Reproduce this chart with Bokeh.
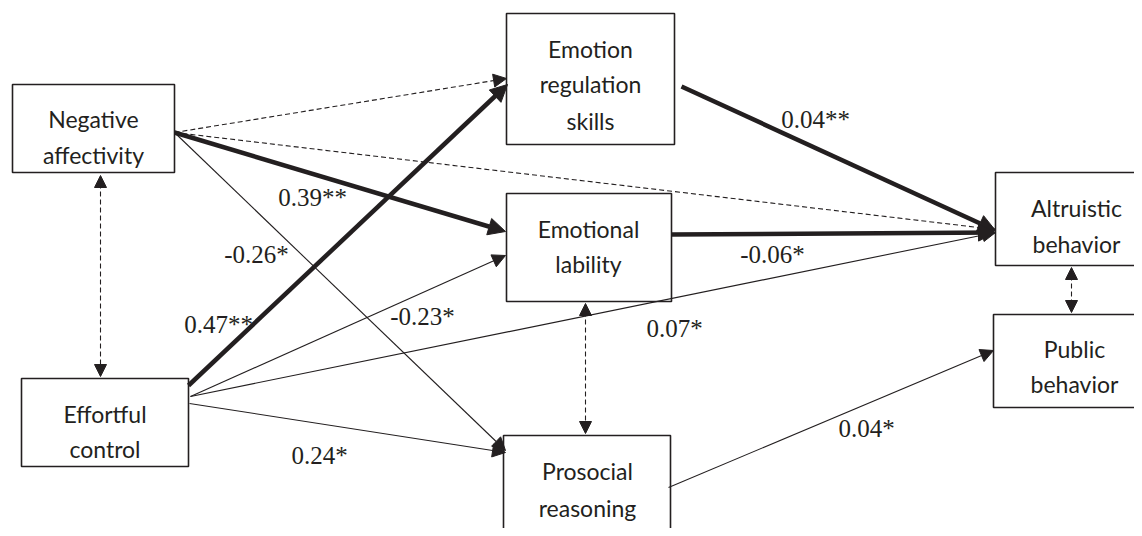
from bokeh.plotting import figure
from bokeh.models import Arrow, NormalHead, Range1d, ColumnDataSource
from bokeh.embed import file_html
from bokeh.resources import INLINE
from bokeh.core.properties import value

# ---- data ----
node_ids = ["NA", "EC", "ERS", "EL", "PR", "ALT", "PUB"]
node_labels = [
    ["Negative", "affectivity"],
    ["Effortful", "control"],
    ["Emotion", "regulation", "skills"],
    ["Emotional", "lability"],
    ["Prosocial", "reasoning"],
    ["Altruistic", "behavior"],
    ["Public", "behavior"],
]

path_from = ["NA", "NA", "NA", "NA", "EC", "EC", "EC", "EC", "ERS", "EL", "PR"]
path_to = ["ERS", "ALT", "EL", "PR", "ERS", "EL", "ALT", "PR", "ALT", "ALT", "PUB"]
path_coef = ["", "", "0.39**", "-0.26*", "0.47**", "-0.23*", "0.07*", "0.24*", "0.04**", "-0.06*", "0.04*"]
path_kind = ["dashed", "dashed", "bold", "thin", "bold", "thin", "thin", "thin", "bold", "bold", "thin"]

cov_a = ["NA", "EL", "ALT"]
cov_b = ["EC", "PR", "PUB"]

# ---- layout (pixel space) ----
box = {  # left, right, top, bottom
    "NA": (12, 174, 84, 172),
    "EC": (21, 188, 378, 466),
    "ERS": (506, 674, 13, 144),
    "EL": (506, 671, 193, 301),
    "PR": (503, 670, 435, 560),
    "ALT": (995, 1170, 172, 265),
    "PUB": (993, 1170, 314, 407),
}
text_x = {"NA": 93, "EC": 104.5, "ERS": 590, "EL": 588, "PR": 587, "ALT": 1076, "PUB": 1074}
text_base = {"NA": [118, 154], "EC": [413, 448], "ERS": [48, 83, 120], "EL": [228, 263],
             "PR": [470, 507], "ALT": [207, 243], "PUB": [348, 383]}

path_start = [(174, 132), (174, 132), (174, 132), (174, 132), (188, 385), (190, 396), (190, 396),
              (189, 403), (681, 86), (671, 234), (668, 487)]
path_end = [(506, 78), (995, 229), (505, 231), (505, 450), (507, 84), (505, 255), (995, 232),
            (505, 452), (995, 230), (995, 232), (993, 350)]
coef_pos = [None, None, (312, 197), (256, 254), (218, 324), (422, 316), (674, 328), (319, 455),
            (815, 119), (772, 254), (866, 428)]
cov_pos = [((100, 175), (100, 376)), ((585, 303), (585, 433)), ((1071, 267), (1071, 312))]

INK = "#231f20"

p = figure(width=1134, height=528, x_range=Range1d(0, 1134), y_range=Range1d(528, 0),
           output_backend="svg", toolbar_location=None, min_border=0)
p.axis.visible = False
p.grid.visible = False
p.outline_line_color = None
p.background_fill_color = "white"

# boxes
src = ColumnDataSource(dict(
    left=[box[n][0] for n in node_ids], right=[box[n][1] for n in node_ids],
    top=[box[n][2] for n in node_ids], bottom=[box[n][3] for n in node_ids]))
p.quad(left="left", right="right", top="top", bottom="bottom", source=src,
       fill_color="white", line_color=INK, line_width=1.6)

# box texts
tx, ty, tt = [], [], []
for n, lines in zip(node_ids, node_labels):
    for line, yb in zip(lines, text_base[n]):
        tx.append(text_x[n]); ty.append(yb); tt.append(line)
p.text(x=tx, y=ty, text=tt, text_font=value("Lato"), text_font_size="23px",
       text_align="center", text_baseline="alphabetic", text_color=INK)

# paths
for k, (s, e) in enumerate(zip(path_start, path_end)):
    kind = path_kind[k]
    lw = 4.5 if kind == "bold" else 1.1
    hs = 17 if kind == "bold" else 13
    head = NormalHead(size=hs, fill_color=INK, line_color=INK, line_width=1)
    arr = Arrow(end=head, x_start=s[0], y_start=s[1], x_end=e[0], y_end=e[1],
                line_color=INK, line_width=lw,
                line_dash="5 3" if kind == "dashed" else "solid")
    p.add_layout(arr)

# covariances
for a, b in cov_pos:
    arr = Arrow(start=NormalHead(size=12, fill_color=INK, line_color=INK),
                end=NormalHead(size=12, fill_color=INK, line_color=INK),
                x_start=a[0], y_start=a[1], x_end=b[0], y_end=b[1],
                line_color=INK, line_width=1.1, line_dash="5 3")
    p.add_layout(arr)

# coefficients
lx = [c[0] for c, t in zip(coef_pos, path_coef) if t]
ly = [c[1] for c, t in zip(coef_pos, path_coef) if t]
lt = [t for t in path_coef if t]
p.text(x=lx, y=ly, text=lt, text_font=value("Liberation Serif"), text_font_size="25px",
       text_align="center", text_baseline="middle", text_color=INK)

open("out.html", "w").write(file_html(p, INLINE))
